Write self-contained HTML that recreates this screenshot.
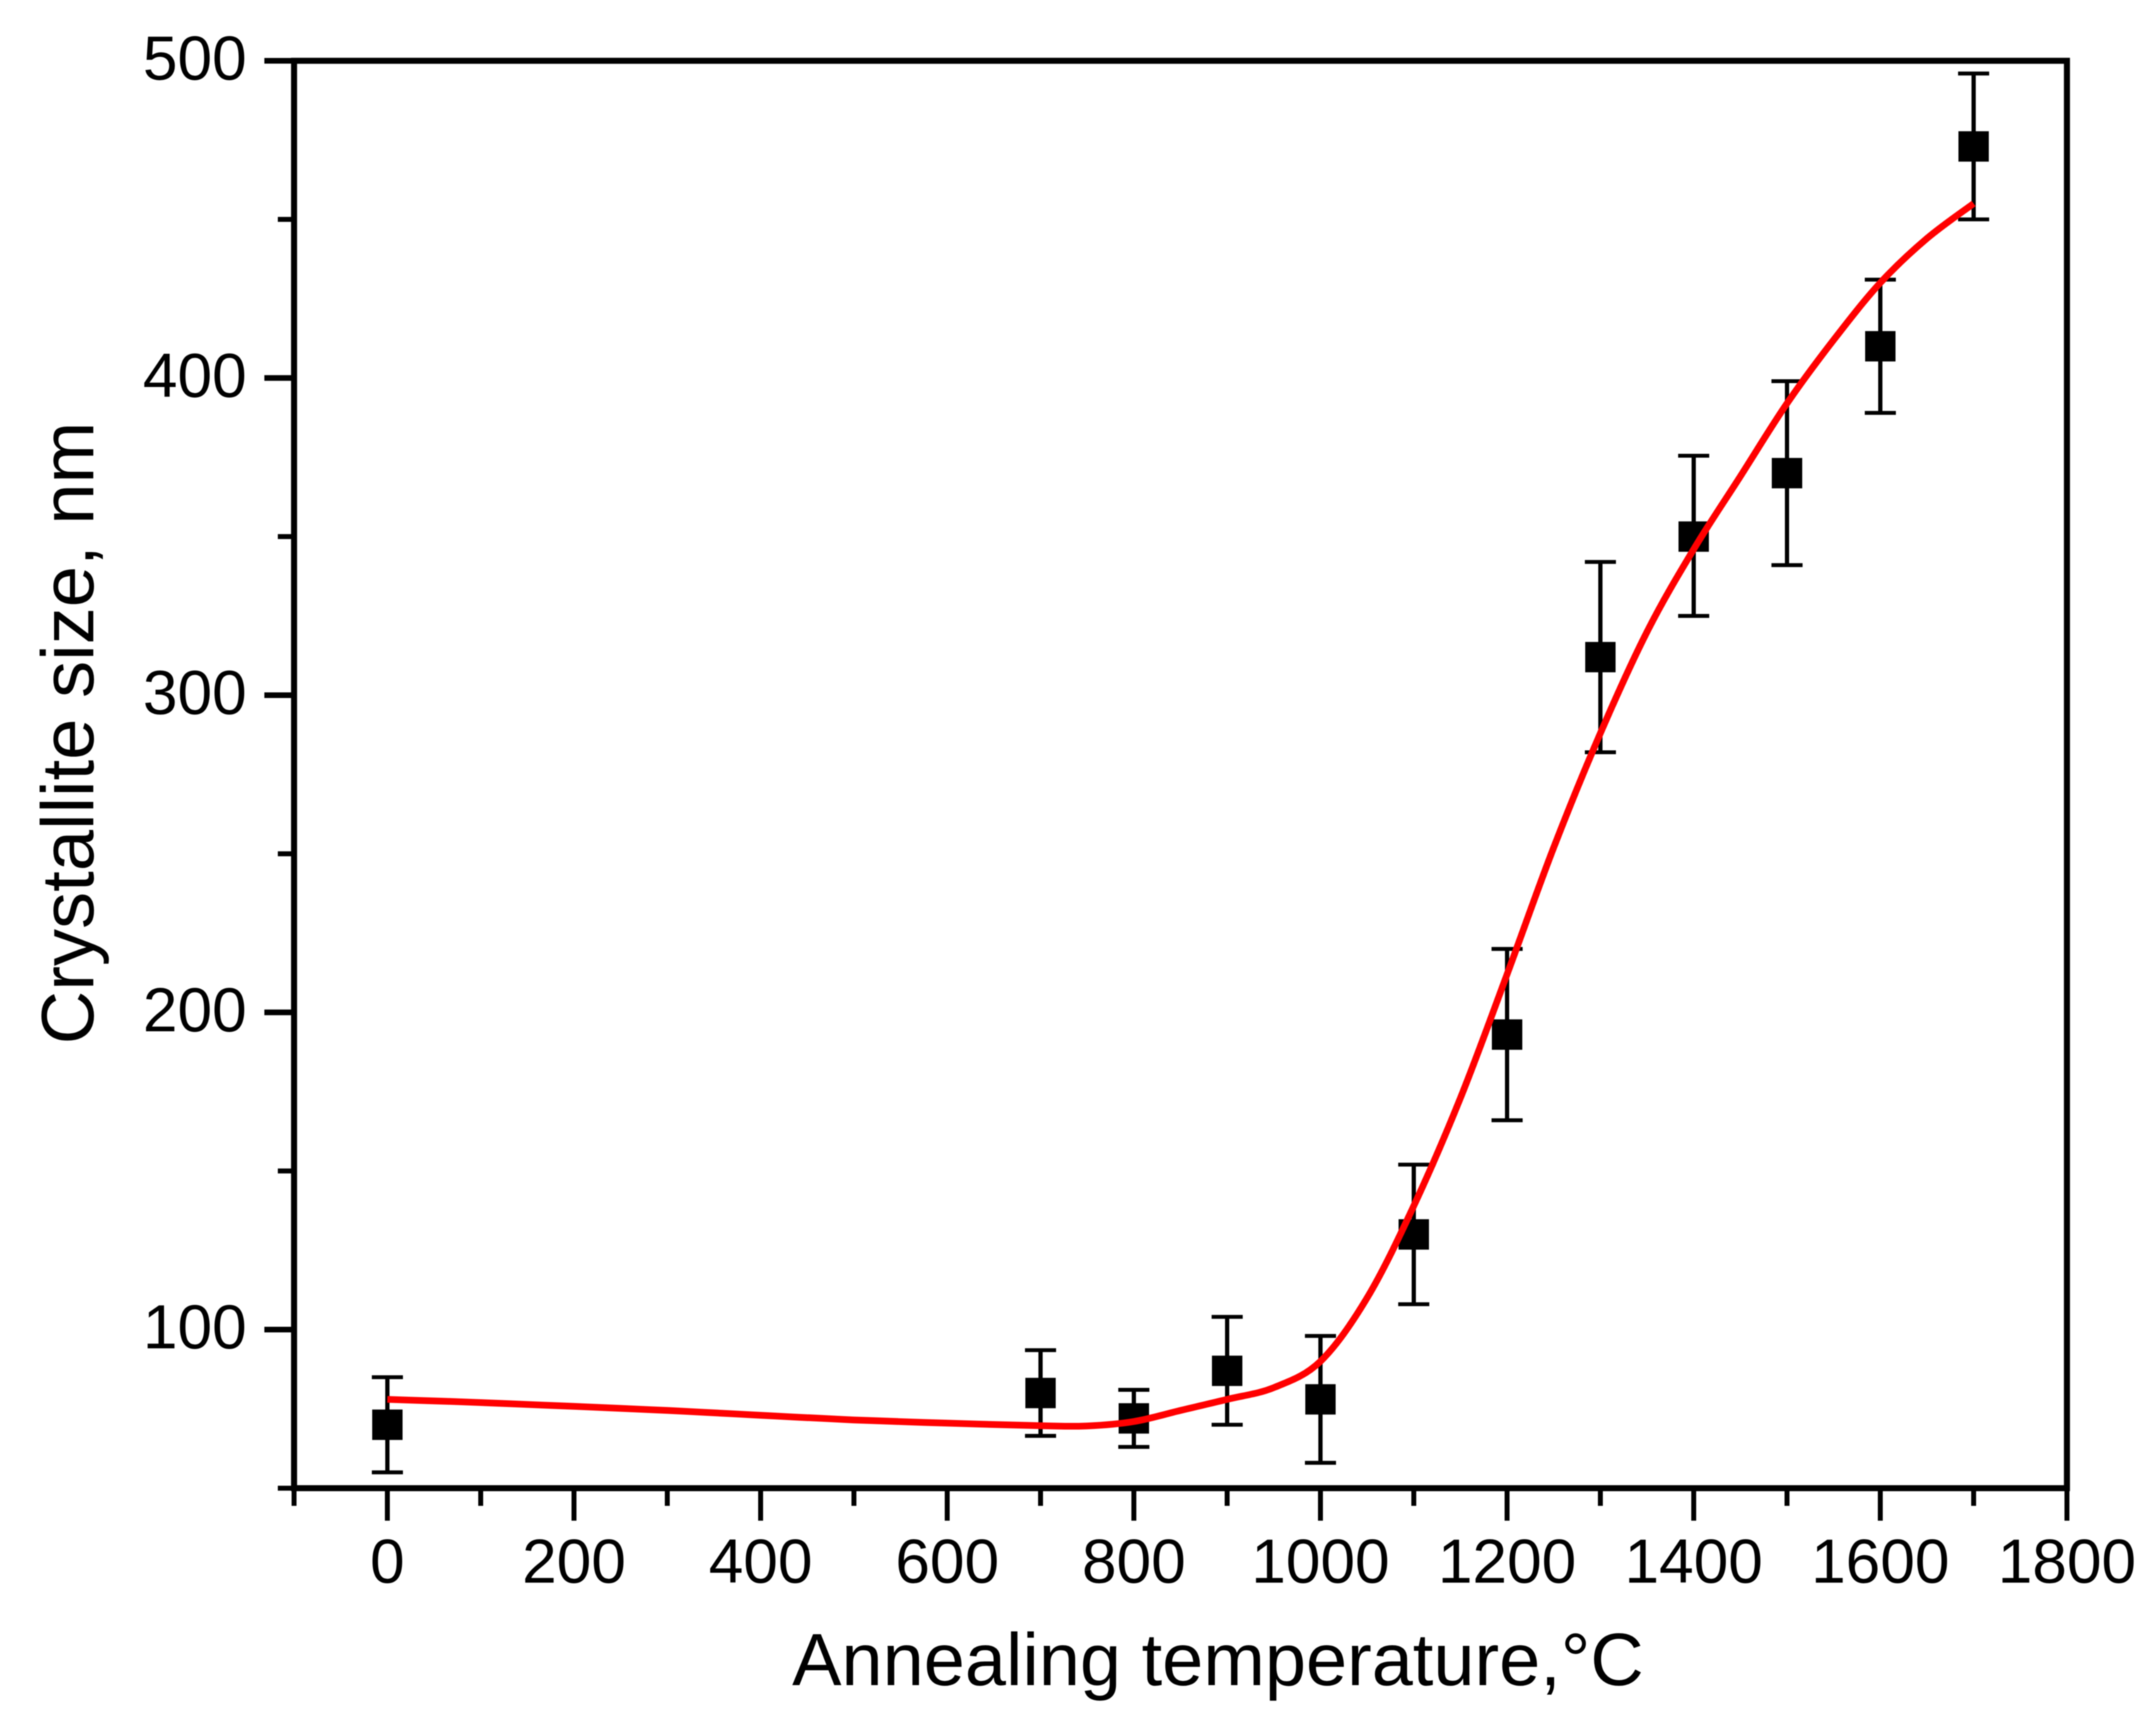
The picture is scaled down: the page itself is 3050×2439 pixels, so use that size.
<!DOCTYPE html>
<html lang="en">
<head>
<meta charset="utf-8">
<title>Crystallite size vs annealing temperature</title>
<style>
html,body{margin:0;padding:0;background:#fff;width:3050px;height:2439px;overflow:hidden}
svg{display:block;filter:blur(0.7px)}
text{font-family:"Liberation Sans",sans-serif;fill:#000}
</style>
</head>
<body>
<svg id="chart" xmlns="http://www.w3.org/2000/svg" width="3050" height="2439" viewBox="0 0 3050 2439">
<rect x="0" y="0" width="3050" height="2439" fill="#fff"/>
<g id="marks-err"></g>
<g id="marks-pts"></g>
<g id="marks-curve"></g>
<g id="axes"></g>
<text x="1723" y="2384" font-size="104.6" text-anchor="middle">Annealing temperature,°C</text>
<text transform="translate(132,1037) rotate(-90)" font-size="105" text-anchor="middle">Crystallite size, nm</text>
</svg>
<script>
const temperatures = [0, 700, 800, 900, 1000, 1100, 1200, 1300, 1400, 1500, 1600, 1700];
const sizes = [70, 80, 72, 87, 78, 130, 193, 312, 350, 370, 410, 473];
const errorTop = [85, 93.5, 81, 104, 98, 152, 220, 342, 375.5, 399, 431, 496];
const errorBottom = [55, 66.5, 63, 70, 58, 108, 166, 282, 325, 341, 389, 450];
const curveTemps = [0, 100, 200, 300, 400, 500, 600, 700, 750, 800, 850, 900, 950, 1000, 1050, 1100, 1150, 1200, 1250, 1300, 1350, 1400, 1450, 1500, 1550, 1600, 1650, 1700];
const curveSizes = [78, 77, 75.8, 74.5, 73, 71.5, 70.5, 69.7, 69.6, 71, 74.5, 78, 81.7, 90, 110, 139, 173, 212, 252, 288, 320, 346, 369, 392, 412, 430, 444, 455];
const xMajorTicks = [0, 200, 400, 600, 800, 1000, 1200, 1400, 1600, 1800];
const xMinorTicks = [-100, 100, 300, 500, 700, 900, 1100, 1300, 1500, 1700];
const yMajorTicks = [100, 200, 300, 400, 500];
const yMinorTicks = [50, 150, 250, 350, 450];

const NS = 'http://www.w3.org/2000/svg';
function xScale(v){ return 548 + (v / 1800) * 2376; }
function yScale(v){ return 86 + ((500 - v) / 400) * 1795; }
function make(tag, parent, attrs){
  const el = document.createElementNS(NS, tag);
  for (const k in attrs) el.setAttribute(k, attrs[k]);
  parent.appendChild(el);
  return el;
}
function smoothPath(xs, ys){
  let d = 'M' + xs[0].toFixed(1) + ' ' + ys[0].toFixed(1);
  for (let i = 0; i < xs.length - 1; i++){
    const a = Math.max(i - 1, 0), b = i + 1, c = Math.min(i + 2, xs.length - 1);
    const c1x = xs[i] + (xs[b] - xs[a]) / 6, c1y = ys[i] + (ys[b] - ys[a]) / 6;
    const c2x = xs[b] - (xs[c] - xs[i]) / 6, c2y = ys[b] - (ys[c] - ys[i]) / 6;
    d += ' C' + c1x.toFixed(1) + ' ' + c1y.toFixed(1) + ' ' + c2x.toFixed(1) + ' ' + c2y.toFixed(1) + ' ' + xs[b].toFixed(1) + ' ' + ys[b].toFixed(1);
  }
  return d;
}

const axes = document.getElementById('axes');
const errLayer = document.getElementById('marks-err');
const ptLayer = document.getElementById('marks-pts');
const curveLayer = document.getElementById('marks-curve');

const L = xScale(-100), R = xScale(1800), T = yScale(500), B = yScale(50);

const frame = make('rect', axes, {x: L, y: T, width: R - L, height: B - T, fill: 'none', stroke: '#000', 'stroke-width': 8.5});



xMajorTicks.forEach(function(v){
  const t = make('line', axes, {x1: xScale(v), x2: xScale(v), y1: B, y2: B + 46, stroke: '#000', 'stroke-width': 7});
  
  
  const l = make('text', axes, {x: xScale(v), y: 2239, 'font-size': 88, 'text-anchor': 'middle'});
  l.textContent = String(v);
  
  
});
xMinorTicks.forEach(function(v){
  const t = make('line', axes, {x1: xScale(v), x2: xScale(v), y1: B, y2: B + 25, stroke: '#000', 'stroke-width': 7});
  
  
});
yMajorTicks.forEach(function(v){
  const t = make('line', axes, {x1: L - 42, x2: L, y1: yScale(v), y2: yScale(v), stroke: '#000', 'stroke-width': 8});
  
  
  const l = make('text', axes, {x: 349, y: yScale(v) + 26.5, 'font-size': 88, 'text-anchor': 'end'});
  l.textContent = String(v);
  
  
});
yMinorTicks.forEach(function(v){
  const t = make('line', axes, {x1: L - 23, x2: L, y1: yScale(v), y2: yScale(v), stroke: '#000', 'stroke-width': 7});
  
  
});

temperatures.forEach(function(t, i){
  const cx = xScale(t);
  const yt = yScale(errorTop[i]), yb = yScale(errorBottom[i]);
  const stem = make('line', errLayer, {x1: cx, x2: cx, y1: yt, y2: yb, stroke: '#000', 'stroke-width': 6});
  
  
  const capTop = make('line', errLayer, {x1: cx - 22, x2: cx + 22, y1: yt, y2: yt, stroke: '#000', 'stroke-width': 5.5});
  
  
  const capBot = make('line', errLayer, {x1: cx - 22, x2: cx + 22, y1: yb, y2: yb, stroke: '#000', 'stroke-width': 5.5});
  
  
  const pt = make('rect', ptLayer, {x: cx - 21.5, y: yScale(sizes[i]) - 21.5, width: 43, height: 43, fill: '#000'});
  
  
});

const fit = make('path', curveLayer, {d: smoothPath(curveTemps.map(xScale), curveSizes.map(yScale)), fill: 'none', stroke: '#ff0000', 'stroke-width': 9.5});


</script>
</body>
</html>
